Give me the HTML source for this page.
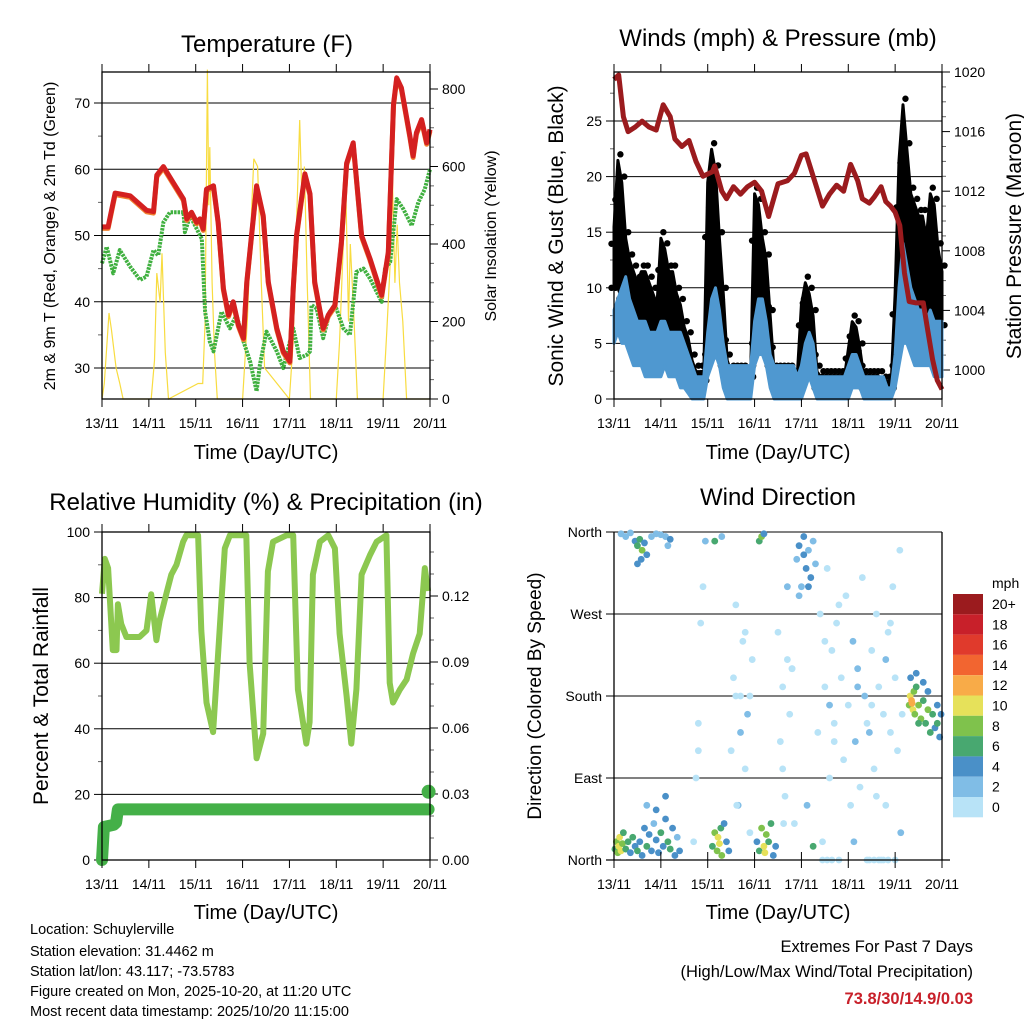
<!DOCTYPE html>
<html><head><meta charset="utf-8"><style>
html,body{margin:0;padding:0;background:#fff;}
svg{display:block;font-family:"Liberation Sans",sans-serif;}
</style></head><body>
<svg id="fig" width="1024" height="1024" viewBox="0 0 1024 1024">
<rect width="1024" height="1024" fill="#fff"/>
<text x="267" y="52" font-size="24" text-anchor="middle">Temperature (F)</text>
<text x="778" y="46" font-size="24" text-anchor="middle">Winds (mph) &amp; Pressure (mb)</text>
<text x="266" y="510" font-size="24" text-anchor="middle">Relative Humidity (%) &amp; Precipitation (in)</text>
<text x="778" y="505" font-size="24" text-anchor="middle">Wind Direction</text>
<g font-size="20" text-anchor="middle">
<text x="266" y="459">Time (Day/UTC)</text>
<text x="778" y="459">Time (Day/UTC)</text>
<text x="266" y="919">Time (Day/UTC)</text>
<text x="778" y="919">Time (Day/UTC)</text>
</g>
<text transform="translate(55,236) rotate(-90)" font-size="16" text-anchor="middle">2m &amp; 9m T (Red, Orange) &amp; 2m Td (Green)</text>
<text transform="translate(496,236) rotate(-90)" font-size="16" text-anchor="middle">Solar Insolation (Yellow)</text>
<text transform="translate(563,236) rotate(-90)" font-size="21" text-anchor="middle">Sonic Wind &amp; Gust (Blue, Black)</text>
<text transform="translate(1021,236) rotate(-90)" font-size="21" text-anchor="middle">Station Pressure (Maroon)</text>
<text transform="translate(48,696) rotate(-90)" font-size="21" text-anchor="middle">Percent &amp; Total Rainfall</text>
<text transform="translate(541,696) rotate(-90)" font-size="19" text-anchor="middle">Direction (Colored By Speed)</text>
<g font-size="14.5">
<text x="30" y="934">Location: Schuylerville</text>
<text x="30" y="956">Station elevation: 31.4462 m</text>
<text x="30" y="976">Station lat/lon: 43.117; -73.5783</text>
<text x="30" y="996">Figure created on Mon, 2025-10-20, at 11:20 UTC</text>
<text x="30" y="1016">Most recent data timestamp: 2025/10/20 11:15:00</text>
</g>
<g font-size="16.5" text-anchor="end">
<text x="973" y="952">Extremes For Past 7 Days</text>
<text x="973" y="977">(High/Low/Max Wind/Total Precipitation)</text>
<text x="973" y="1004" fill="#c8202a" font-weight="bold">73.8/30/14.9/0.03</text>
</g>
</svg>
<script>
// ---------- data ----------
const dayLabels = ['13/11','14/11','15/11','16/11','17/11','18/11','19/11','20/11'];
const tempT = [13.0,13.13,13.28,13.6,13.95,14.1,14.17,14.31,14.52,14.74,14.81,14.91,15.02,15.09,15.16,15.23,15.38,15.48,15.59,15.7,15.8,15.91,16.02,16.09,16.19,16.3,16.44,16.55,16.73,16.87,17.01,17.08,17.15,17.33,17.44,17.54,17.72,17.83,17.97,18.11,18.22,18.36,18.47,18.54,18.72,18.97,19.11,19.22,19.29,19.39,19.57,19.64,19.71,19.82,19.93,20.0];
const tempV = [51.3,51.3,56.4,56,53.8,53.6,59.1,60.4,58,55.5,52.5,53.5,52,52.5,51,57,57.5,52,42,38,40,36.5,34.5,43,50,57.5,53,43,36,32.5,31,42,50,59.3,56.3,43,36,38,39.5,49,60.9,64,55.5,50,46.5,41,47.5,69.8,73.8,72.3,65,62,65.5,67.5,64,66];
const dewT = [13.0,13.1,13.24,13.38,13.6,13.81,13.95,14.1,14.2,14.31,14.45,14.74,14.77,14.88,15.02,15.13,15.2,15.3,15.38,15.55,15.73,15.87,16.02,16.16,16.3,16.37,16.51,16.73,16.87,17.08,17.22,17.37,17.44,17.47,17.58,17.72,17.86,18.0,18.15,18.29,18.43,18.58,18.72,18.97,19.04,19.15,19.29,19.43,19.61,19.75,19.89,20.0];
const dewV = [45.8,48.3,44.3,47.8,45.3,43.3,43.8,47.8,47,52,53.5,53.5,50.5,53,51,49.5,38.5,34,32.5,38.5,36,38,34,31,26.5,30.5,35.5,32.5,30,36,31.5,32,32.5,39.5,39,34.5,38.5,39,36,35,44.5,45,43.5,40,45,46,55.5,54,51.5,55,57,60];
const solarT = [13.0,13.05,13.15,13.2,13.3,13.38,13.45,14.05,14.12,14.17,14.24,14.28,14.35,14.42,15.05,15.15,15.2,15.25,15.28,15.3,15.35,15.4,15.46,16.0,16.1,16.18,16.24,16.32,16.4,16.47,17.0,17.08,17.15,17.22,17.27,17.32,17.38,17.45,18.0,18.07,18.15,18.2,18.26,18.3,18.38,18.45,19.0,19.08,19.15,19.2,19.25,19.3,19.35,19.42,19.5,20.0];
const solarV = [0,40,222,180,80,40,0,0,100,325,250,376,120,0,40,40,200,850,500,650,300,120,0,0,200,450,620,600,300,80,0,150,450,720,500,600,300,0,0,150,400,560,200,400,200,0,0,180,350,560,300,450,300,200,0,0];
const windT0 = 13, windStepDays = 1/12;
const gustHi = [16,22,20,15,13,12,11,12,12,11,10,9, 15,14,12,12,10,9,7,6,4,3,3,3, 20,23,21,15,10,4,3,3,3,3,2.5,3, 19,18,15,13,8,3,3,3,3,3,2.5,3, 9,11,10,8,3,2.5,2.5,2.5,2.5,2.5,2.5,2.5, 5,7.5,7,5,2.5,2.5,2.5,2.5,2.5,2,2,2, 10,22,27,23,19,18,17,17,15,19,18,14, 12];
const gustLo = [10,10,9,8,6,5,5,5,5,5,5,4, 5,6,6,5,4,3,2,2,1,1,0.5,1, 4,6,7,6,3,1.5,1.5,1.5,1.5,1.5,1.5,1.5, 5,6,7,6,3,1.5,2,1.5,1.5,1.5,1.5,1.5, 2,4,4,2,1,1,1,1,1,1,1,1, 1,2,3,2,1,1,1,1,1,1,0.5,0.5, 3,8,10,10,7,6,6,5,5,5,4,3, 4];
const windHi = [8,9,10,11,9,8,7,7,7,6,6,6, 7,7,6,6,6,6,5,4,3,2,2,2, 6,9,10,8,5,3,3,3,3,3,3,3, 7,9,9,7,4,3,3,3,3,3,3,2, 3,5,6,5,2,2,2,2,2,2,2,2, 3,4,4,3,2,2,2,2,2,2,1,1, 4,10,14,12,10,9,8,8,7,8,7,7, 7];
const windLo = [5,6,5,5,4,3,3,3,2,2,2,2, 2,3,2,2,2,1,1,0.5,0,0,0,0, 2,3,4,3,1,0,0,0,0,0,0,0, 3,4,4,3,1,0,0,0,0,0,0,0, 0,1,2,1,0,0,0,0,0,0,0,0, 0,1,1,1,0,0,0,0,0,0,0,0, 1,3,5,5,4,3,3,3,3,3,2,2, 2];
const presT = [13.0,13.1,13.2,13.3,13.45,13.6,13.75,13.9,14.05,14.2,14.3,14.45,14.6,14.75,14.9,15.1,15.15,15.3,15.4,15.55,15.7,15.85,16.0,16.15,16.3,16.5,16.7,16.85,17.0,17.1,17.3,17.45,17.6,17.75,17.9,18.05,18.2,18.3,18.45,18.55,18.7,18.8,18.9,19.0,19.1,19.2,19.3,19.45,19.6,19.7,19.8,19.9,20.0];
const presV = [1019.5,1019.8,1017,1016,1016.3,1016.7,1016.3,1016.1,1017.8,1017,1015.5,1015,1015.4,1014,1013,1013.3,1013.7,1012,1011.5,1012.3,1011.8,1012.3,1012.6,1012,1010.3,1012.5,1012.7,1013.2,1014.4,1014.5,1012.5,1011,1011.8,1012.4,1012,1013.8,1012.7,1011.5,1011.2,1011.6,1012.3,1011.3,1011,1010.6,1009.7,1006.5,1004.6,1004.5,1004.5,1002.6,1000.7,999.3,998.7];
const rhT = [13.0,13.06,13.13,13.23,13.31,13.34,13.41,13.52,13.8,13.95,14.05,14.16,14.23,14.37,14.48,14.59,14.73,14.8,15.05,15.12,15.23,15.37,15.51,15.62,15.73,16.08,16.15,16.3,16.44,16.54,16.65,16.94,17.08,17.18,17.36,17.43,17.5,17.65,17.83,17.97,18.07,18.22,18.32,18.43,18.54,18.72,18.86,19.07,19.14,19.21,19.36,19.5,19.64,19.78,19.89,19.96];
const rhV = [81.2,91.8,89,64,64,78,72,68,68,70,81,67,73,81,87,90,97,99,99,70,48,39,70,95,99,99,60,31,38.5,88,97,99,99,52,35.5,42,87,97,99,95,69,50,35.5,52,87,93,97,99,54,48,52,55,63,69,89,82];
const precipT = [13.0,13.04,13.25,13.3,13.34,19.97];
const precipV = [0,0.015,0.016,0.017,0.023,0.023];
const precipLastT = 19.97, precipLastV = 0.031;
// [day, direction (deg), speed (mph)]
const windDirObs = [
[13.02,12,7],[13.05,20,9],[13.08,8,8],[13.1,15,11],[13.12,25,10],[13.15,10,10],[13.18,18,8],[13.2,30,7],[13.25,12,6],[13.3,20,6],[13.35,8,5],[13.4,25,6],[13.45,15,5],[13.5,10,7],
[13.55,20,5],[13.6,5,4],[13.65,35,5],[13.7,15,6],[13.75,28,4],[13.8,10,5],[13.85,40,3],[13.9,22,5],[13.95,8,4],[14.0,30,6],[14.05,15,5],[14.1,45,4],[14.15,20,7],[14.2,12,6],[14.25,35,5],[14.3,5,4],[14.35,25,3],[14.4,10,4],[13.7,60,3],[13.9,55,4],[14.1,70,5],
[13.15,358,3],[13.25,355,2],[13.35,359,3],[13.45,350,5],[13.5,345,7],[13.55,352,6],[13.6,340,8],[13.65,348,5],[13.7,335,4],[13.8,355,3],[13.9,358,3],[14.0,357,2],[14.1,355,3],[14.2,352,4],[13.5,325,4],[13.58,330,5],[14.15,345,3],
[15.1,15,6],[15.15,30,8],[15.2,10,9],[15.22,25,11],[15.25,18,10],[15.28,35,7],[15.3,5,8],[15.35,40,5],[15.4,20,5],[15.45,10,4],[15.15,350,7],[15.3,355,3],
[16.05,20,5],[16.1,10,7],[16.15,35,8],[16.2,15,10],[16.22,8,11],[16.25,28,9],[16.3,20,6],[16.35,40,7],[16.4,5,5],[16.45,15,4],[16.1,350,7],[16.15,355,8],[16.2,358,5],
[16.9,330,3],[16.95,345,4],[17.0,300,3],[17.05,355,5],[17.1,320,4],[17.15,340,3],[17.2,310,4],[17.25,350,3],[17.3,325,2],[16.95,290,3],[17.05,335,4],[17.15,300,5],[17.25,15,6],
[14.7,20,1],[14.75,90,1],[14.8,150,1],[14.85,260,1],[14.9,300,1],[14.95,350,2],[15.5,120,1],[15.55,200,1],[15.6,280,1],[15.65,60,2],[15.7,180,1],[15.75,240,1],[15.8,100,1],[15.85,160,2],[15.9,30,1],[15.95,220,1],
[16.5,250,1],[16.55,130,1],[16.6,190,1],[16.65,70,1],[16.7,300,2],[16.75,160,1],[16.8,210,1],[16.85,40,1],[17.35,140,1],[17.4,270,1],[17.45,20,1],[17.5,190,1],[17.55,320,1],[17.6,90,1],[17.65,230,1],[17.7,150,1],
[17.75,260,1],[17.8,0,1],[17.85,200,1],[17.9,110,1],[17.95,290,1],[18.0,170,1],[18.05,60,1],[18.1,240,3],[18.15,130,3],[18.2,210,3],[18.25,80,1],[18.3,310,1],[18.35,180,3],[18.4,0,1],[18.45,140,3],[18.5,230,1],
[18.55,100,1],[18.6,270,1],[18.65,190,1],[18.7,0,1],[18.75,160,1],[18.8,60,1],[18.85,250,1],[18.9,140,1],[18.95,300,1],[19.0,200,1],[19.05,120,1],[19.1,340,1],[19.15,160,1],[15.7,140,3],[15.8,250,1],[16.6,100,1],
[16.7,220,1],[17.6,170,3],[17.8,280,1],[18.2,190,3],[18.4,150,1],[18.6,70,1],[18.8,220,3],[19.0,0,1],[15.6,180,1],[16.8,210,1],[17.7,130,1],[18.5,170,1],[18.9,260,1],[14.8,120,1],[15.9,180,1],[17.5,240,1],
[17.45,0,1],[17.55,0,1],[17.65,0,1],[18.45,0,1],[18.55,0,1],[18.65,0,1],[18.75,0,1],[18.85,0,1],[15.62,60,1],[16.62,40,1],[17.12,60,2],[18.12,20,2],[19.12,30,2],
[19.3,170,8],[19.32,180,10],[19.35,175,12],[19.38,165,11],[19.4,185,9],[19.42,160,8],[19.45,190,7],[19.5,170,9],[19.55,155,8],[19.6,175,7],[19.65,150,6],[19.7,165,8],[19.75,140,7],[19.8,160,6],[19.85,145,5],[19.9,150,6],[19.95,135,5],[19.33,200,5],[19.45,205,4],[19.6,195,4],[19.7,185,4],[19.9,170,4],[19.98,160,5],[19.36,172,13],[19.5,150,7]
];
const speedBins = ['0','2','4','6','8','10','12','14','16','18','20+'];
const speedColors = ['#b8e3f7','#80bde6','#4a90c8','#48a870','#7fc24c','#e6e15a','#f8ab48','#f26530','#e03a2c','#c8202a','#9b1b1e'];

// ---------- helpers ----------
const NS='http://www.w3.org/2000/svg';
const svg=document.getElementById('fig');
function mk(tag,attrs,parent){const e=document.createElementNS(NS,tag);for(const k in attrs)e.setAttribute(k,attrs[k]);(parent||svg).appendChild(e);return e;}
function pts(xs,ys,fx,fy){return xs.map((t,i)=>fx(t).toFixed(1)+','+fy(ys[i]).toFixed(1)).join(' ');}
function xScale(x0){return t=>x0+(t-13)*(328/7);}
function frame(g,x0,y0,x1,y1){const r=mk('rect',{x:x0,y:y0,width:x1-x0,height:y1-y0,fill:'none',stroke:'#000','stroke-width':1.3},g);}
function xAxis(g,x0,y0,y1,topTicks,labelY){
  const fx=xScale(x0);
  dayLabels.forEach((lab,i)=>{const x=fx(13+i);
    mk('line',{x1:x,x2:x,y1:y1,y2:y1+8,stroke:'#000'},g);
    if(topTicks)mk('line',{x1:x,x2:x,y1:y0,y2:y0-8,stroke:'#000'},g);
    const t=mk('text',{x:x,y:labelY,'font-size':14,'text-anchor':'middle'},g);t.textContent=lab;
    
    
  });
}
function yTicks(g,side,x,vals,fy,labels,grid,x1,minor){
  vals.forEach((v,i)=>{const y=fy(v);
    const dir=side==='left'?-1:1;
    mk('line',{x1:x,x2:x+dir*8,y1:y,y2:y,stroke:'#000'},g);
    if(grid)mk('line',{x1:x,x2:x1,y1:y,y2:y,stroke:'#000','stroke-width':1},g);
    const t=mk('text',{x:x+dir*12,y:y+5,'font-size':14,'text-anchor':side==='left'?'end':'start'},g);t.textContent=labels[i];
    
    
  });
  (minor||[]).forEach(v=>{const y=fy(v);const dir=side==='left'?-1:1;mk('line',{x1:x,x2:x+dir*4,y1:y,y2:y,stroke:'#666'},g);});
}

// ---------- Panel 1: Temperature ----------
(function(){
  const g=mk('g',{});
  const x0=102,x1=430,y0=72,y1=399,fx=xScale(x0);
  const fy=v=>368-(v-30)*6.625, fs=v=>399-v*0.3875;
  yTicks(g,'left',x0,[30,40,50,60,70],fy,['30','40','50','60','70'],true,x1,[35,45,55,65]);
  yTicks(g,'right',x1,[0,200,400,600,800],fs,['0','200','400','600','800'],false,0,[50,100,150,250,300,350,450,500,550,650,700,750]);
  const sol=mk('polyline',{points:pts(solarT,solarV,fx,fs),fill:'none',stroke:'#f8dc40','stroke-width':1.2},g);
  
  const dew=mk('polyline',{points:pts(dewT,dewV,fx,fy),fill:'none',stroke:'#40b040','stroke-width':4,'stroke-dasharray':'2.5 1','stroke-linejoin':'round'},g);
  
  const or=mk('polyline',{points:pts(tempT,tempV,fx,v=>fy(v)+1.5),fill:'none',stroke:'#f08030','stroke-width':5,'stroke-linejoin':'round'},g);
  
  const red=mk('polyline',{points:pts(tempT,tempV,fx,fy),fill:'none',stroke:'#d42020','stroke-width':5,'stroke-linejoin':'round'},g);
  
  frame(g,x0,y0,x1,y1);
  xAxis(g,x0,y0,y1,true,428);
})();

// ---------- Panel 2: Winds & Pressure ----------
(function(){
  const g=mk('g',{});
  const x0=614,x1=942,y0=72,y1=399,fx=xScale(x0);
  const fy=v=>399-v*11.12, fp=v=>370-(v-1000)*14.9;
  yTicks(g,'left',x0,[0,5,10,15,20,25],fy,['0','5','10','15','20','25'],true,x1,[2.5,7.5,12.5,17.5,22.5,27.5]);
  yTicks(g,'right',x1,[1000,1004,1008,1012,1016,1020],fp,['1000','1004','1008','1012','1016','1020'],false,0,[1001,1002,1003,1005,1006,1007,1009,1010,1011,1013,1014,1015,1017,1018,1019]);
  const ts=gustHi.map((_,i)=>windT0+i*windStepDays);
  const gband=mk('polygon',{points:pts(ts,gustHi,fx,v=>fy(v)+6)+' '+pts(ts.slice().reverse(),gustLo.slice().reverse(),fx,fy),fill:'#000',stroke:'#000','stroke-width':3,'stroke-linejoin':'round'},g);
  
  ts.forEach((t,i)=>{
    [0,0.33,0.66,1].forEach((f,j)=>{
      const v=gustLo[i]+(gustHi[i]-gustLo[i])*f;
      const c=mk('circle',{cx:fx(t)+(j%2?2.5:-2.5),cy:fy(v),r:3.2,fill:'#000'},g);
      
      
    });
  });
  const wband=mk('polygon',{points:pts(ts,windHi,fx,fy)+' '+pts(ts.slice().reverse(),windLo.slice().reverse(),fx,fy),fill:'#4f98d0',stroke:'#4f98d0','stroke-width':3,'stroke-linejoin':'round'},g);
  
  const pr=mk('polyline',{points:pts(presT,presV,fx,fp),fill:'none',stroke:'#9b1b1e','stroke-width':5,'stroke-linejoin':'round'},g);
  
  frame(g,x0,y0,x1,y1);
  xAxis(g,x0,y0,y1,true,428);
})();

// ---------- Panel 3: RH & Precip ----------
(function(){
  const g=mk('g',{});
  const x0=102,x1=430,y0=532,y1=860,fx=xScale(x0);
  const fy=v=>860-v*3.28, fr=v=>860-v*2200;
  yTicks(g,'left',x0,[0,20,40,60,80,100],fy,['0','20','40','60','80','100'],true,x1,[10,30,50,70,90]);
  yTicks(g,'right',x1,[0,0.03,0.06,0.09,0.12],fr,['0.00','0.03','0.06','0.09','0.12'],false,0,[0.01,0.02,0.04,0.05,0.07,0.08,0.1,0.11,0.13,0.14]);
  const rh=mk('polyline',{points:pts(rhT,rhV,fx,fy),fill:'none',stroke:'#8cc850','stroke-width':6,'stroke-linejoin':'round'},g);
  
  const pc=mk('polyline',{points:pts(precipT,precipV,fx,fr),fill:'none',stroke:'#44b048','stroke-width':12,'stroke-linejoin':'round','stroke-linecap':'round'},g);
  
  const pd=mk('circle',{cx:fx(precipLastT),cy:fr(precipLastV),r:7,fill:'#44b048'},g);
  
  frame(g,x0,y0,x1,y1);
  xAxis(g,x0,y0,y1,true,889);
})();

// ---------- Panel 4: Wind Direction ----------
(function(){
  const g=mk('g',{});
  const x0=614,x1=942,y0=532,y1=860,fx=xScale(x0);
  const fy=d=>860-d*(328/360);
  yTicks(g,'left',x0,[0,90,180,270,360],fy,['North','East','South','West','North'],true,x1,[]);
  windDirObs.forEach(o=>{
    const bin=Math.min(10,Math.floor(o[2]/2));
    const c=mk('circle',{cx:fx(o[0]),cy:fy(o[1]),r:3.4,fill:speedColors[bin]},g);
    
    
  });
  mk('line',{x1:x0,x2:x0,y1:y0,y2:y1,stroke:'#000','stroke-width':1.3},g);
  mk('line',{x1:x1,x2:x1,y1:y0,y2:y1,stroke:'#000','stroke-width':1.3},g);
  mk('line',{x1:x0-8,x2:x1+8,y1:y1,y2:y1,stroke:'#000','stroke-width':1.3},g);
  const fxx=xScale(x0);
  dayLabels.forEach((lab,i)=>{const x=fxx(13+i);
    mk('line',{x1:x,x2:x,y1:y1-8,y2:y1+8,stroke:'#000'},g);
    const t=mk('text',{x:x,y:889,'font-size':14,'text-anchor':'middle'},g);t.textContent=lab;
    
    
  });
  // colorbar
  const lb=mk('g',{});
  const mt=mk('text',{x:992,y:588,'font-size':14},lb);mt.textContent='mph';
  
  for(let i=0;i<speedBins.length;i++){
    const k=speedBins.length-1-i, yy=594+i*20.3;
    const r=mk('rect',{x:953,y:yy,width:30,height:20.3,fill:speedColors[k]},lb);
    
    
    const t=mk('text',{x:992,y:yy+15,'font-size':14},lb);t.textContent=speedBins[k];
    
    
  }
})();
</script>
</body></html>
